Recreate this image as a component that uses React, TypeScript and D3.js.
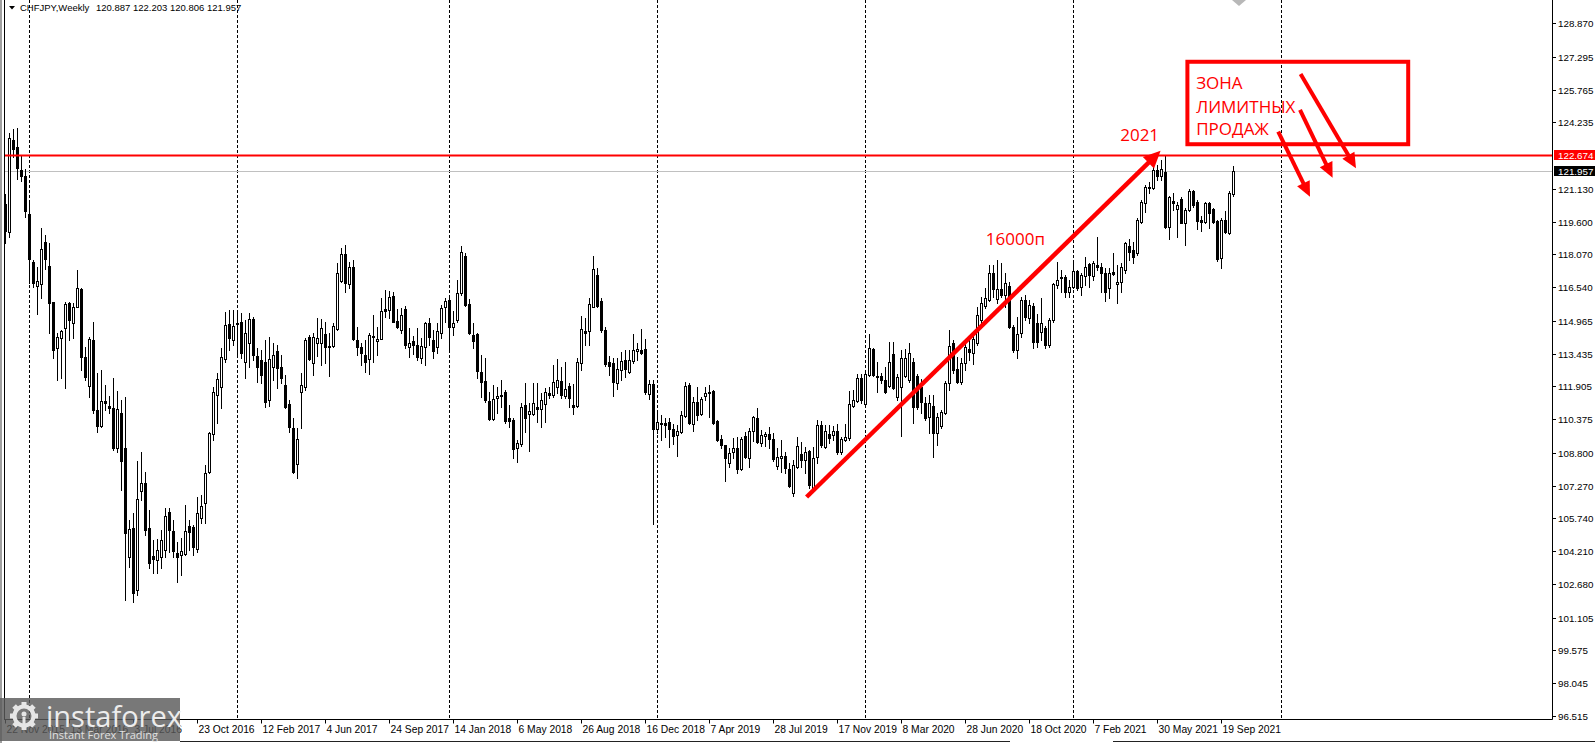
import React from 'react';
import * as d3 from 'd3';

const symbolTitle = 'CHFJPY,Weekly';
const lastOHLC = ['120.887', '122.203', '120.806', '121.957'];

const opens = [
120.42,119.11,123.41,123.08,122.01,121.73,119.95,117.71,116.59,116.69,
118.65,117.53,115.85,113.70,114.16,114.63,115.80,114.86,115.61,116.45,
113.28,111.92,114.07,110.80,110.06,111.22,110.99,110.90,109.03,110.66,
109.03,103.94,105.29,102.40,107.02,107.40,105.29,103.99,103.80,103.94,
104.27,106.04,105.15,104.13,104.03,104.08,105.39,105.34,104.31,105.76,
106.46,107.91,109.68,111.50,111.88,113.18,114.82,114.07,114.86,114.91,
113.04,113.93,115.05,113.32,113.14,113.04,111.27,112.81,113.56,112.81,
111.97,111.08,109.96,108.28,111.64,111.88,114.21,112.99,113.93,113.93,
114.35,113.79,113.79,114.58,116.82,118.09,116.69,117.48,114.07,113.74,
113.37,113.18,114.26,114.03,114.12,115.51,115.47,116.13,114.96,114.54,
115.51,113.74,114.03,113.84,113.23,113.74,114.86,114.07,113.74,114.40,
115.61,115.94,114.68,115.00,116.26,117.99,115.75,114.30,114.35,112.58,
112.16,111.22,110.38,111.36,111.46,111.64,110.43,110.34,109.03,109.21,
111.04,110.62,110.62,110.94,110.85,111.08,111.60,111.50,111.88,112.16,
111.46,111.92,111.04,110.99,112.99,114.49,114.49,115.61,117.11,115.89,
114.54,113.04,112.99,112.06,112.67,113.14,112.58,113.09,113.56,113.60,
113.65,111.55,112.02,109.92,110.20,110.20,110.24,109.92,109.63,109.78,
110.52,111.97,110.15,111.18,110.62,111.46,111.60,111.69,110.29,109.45,
109.17,108.33,108.84,109.03,108.05,109.59,108.56,109.82,110.43,109.26,
109.59,109.68,109.45,108.19,108.56,108.66,108.05,106.93,108.14,108.75,
108.47,108.89,107.16,108.61,110.10,109.07,109.68,109.63,109.82,108.84,
109.40,109.49,110.99,111.22,112.30,111.08,112.44,113.65,112.39,112.39,
112.20,111.92,113.42,111.41,111.88,112.39,112.20,113.04,112.39,111.88,
111.13,110.48,110.99,109.73,110.06,110.66,112.06,113.93,112.72,112.11,
112.99,113.65,113.46,113.93,115.00,115.66,115.94,117.20,115.98,116.45,
116.17,116.59,114.68,113.60,114.40,115.94,115.10,115.66,114.86,114.44,
114.63,113.84,115.00,116.64,117.01,117.01,116.31,116.54,117.29,116.54,
117.06,117.62,117.06,117.57,117.48,117.20,116.50,117.25,116.69,116.78,
117.34,118.46,118.27,118.13,119.58,120.47,121.21,121.17,122.01,121.73,
121.91,119.35,120.56,120.19,120.65,119.53,120.14,121.03,120.51,119.67,
119.58,120.47,120.19,119.63,117.90,119.67,119.06,120.887
];

const highs = [
120.89,123.73,123.92,123.97,122.66,122.05,120.47,117.81,117.48,119.30,
118.97,118.60,115.85,114.40,114.54,115.85,115.85,115.80,117.34,116.50,
113.74,114.21,114.91,112.53,112.67,111.97,111.46,112.30,111.69,111.27,
111.41,105.67,105.99,108.42,108.84,107.91,106.13,104.73,104.78,105.20,
106.23,106.23,105.67,104.64,104.83,106.37,105.67,105.43,106.74,106.83,
108.24,109.78,111.88,112.53,113.70,115.38,115.47,115.47,115.33,115.33,
115.00,115.33,115.14,113.70,113.60,114.07,114.21,113.93,113.84,113.37,
112.44,111.27,110.43,109.96,112.53,114.16,114.31,114.40,115.10,115.05,
114.91,114.40,114.86,117.67,118.37,118.51,117.71,117.81,114.68,113.93,
114.07,114.40,115.24,114.68,116.03,116.40,116.36,116.31,115.51,115.56,
115.66,114.63,114.26,114.63,114.16,114.91,115.10,114.54,114.86,115.70,
116.03,116.03,115.42,116.87,118.46,118.13,115.98,114.86,114.40,113.37,
113.23,111.64,111.97,111.88,112.20,111.74,111.04,110.43,109.40,111.13,
112.06,111.13,112.06,112.06,111.60,111.83,111.88,112.90,113.18,112.81,
113.04,112.06,112.02,113.23,115.19,115.10,116.03,117.99,117.43,116.03,
114.68,113.32,113.23,113.23,113.51,113.60,113.60,114.35,113.93,114.58,
114.12,112.20,112.20,110.71,110.57,110.43,110.43,110.15,110.10,110.76,
112.11,112.06,111.41,111.88,111.41,111.88,111.97,111.74,110.34,109.63,
109.17,109.03,109.49,109.54,109.54,109.78,109.96,110.52,110.90,109.87,
109.78,110.01,109.73,109.03,109.40,108.84,108.33,108.47,109.54,109.31,
109.07,108.94,109.07,110.34,110.29,110.10,110.10,110.06,110.15,109.54,
110.15,111.69,111.74,112.48,112.48,112.53,114.35,113.70,113.04,112.53,
112.81,113.98,113.98,112.48,113.60,113.65,113.93,113.23,112.48,112.25,
111.41,111.50,111.50,110.66,110.80,112.16,114.54,114.07,113.28,113.23,
114.12,114.07,114.30,115.61,116.08,116.50,117.57,117.57,117.81,117.67,
117.20,116.78,114.77,115.14,116.08,116.17,115.94,115.80,115.28,116.03,
114.72,115.10,116.73,117.71,117.34,117.11,116.87,117.67,117.34,117.20,
117.95,117.67,117.76,118.88,117.67,117.43,117.43,118.13,117.57,117.67,
118.65,118.79,118.65,119.76,120.61,121.31,121.45,122.47,122.24,122.47,
122.674,120.79,120.93,120.51,120.75,120.23,121.12,121.07,120.61,119.86,
120.51,120.51,120.23,119.67,119.76,120.09,121.03,122.203
];

const lows = [
118.60,118.88,122.61,121.59,121.49,119.81,116.73,116.54,115.28,116.03,
117.39,114.40,113.23,112.20,112.30,111.83,114.07,114.16,115.61,112.67,
112.20,111.41,110.66,109.78,110.01,110.80,110.66,108.94,108.84,107.07,
101.93,103.47,101.84,102.17,106.60,104.97,103.43,103.19,103.19,103.43,
103.94,104.17,103.94,102.77,103.10,104.03,104.27,104.03,104.17,105.53,
105.53,107.86,109.40,110.20,110.90,113.04,113.60,113.84,113.37,113.23,
112.30,112.81,113.14,112.11,112.06,110.94,110.99,112.20,111.83,112.06,
110.90,109.78,107.86,107.63,109.96,111.74,113.14,112.44,113.30,112.90,
112.99,112.39,113.74,114.54,116.78,116.31,116.50,114.07,113.37,112.90,
112.58,112.48,113.04,113.37,114.12,115.14,115.10,114.91,114.63,114.40,
113.70,113.28,113.42,113.14,112.99,112.90,113.84,113.23,113.46,114.16,
114.91,113.60,114.30,114.91,116.17,115.66,114.35,113.70,112.30,111.41,
111.18,110.34,110.34,110.66,110.94,110.20,110.01,108.56,108.38,109.12,
109.78,108.89,110.57,110.24,110.01,110.24,111.36,111.41,111.60,111.36,
111.36,110.94,110.62,110.94,112.67,113.84,113.84,115.61,115.61,114.44,
112.86,112.44,111.46,111.78,112.20,112.34,112.53,112.99,113.14,113.42,
111.55,111.32,105.48,109.73,109.40,109.54,109.07,109.21,108.66,109.73,
110.48,110.15,109.82,110.34,110.57,111.27,110.48,110.15,109.35,109.03,
107.49,108.14,108.56,107.86,108.00,108.56,108.14,109.35,109.26,109.12,
109.12,109.03,108.42,108.05,107.91,107.86,107.21,106.79,108.09,108.14,
107.86,107.16,107.07,108.33,109.07,109.03,109.26,109.40,108.75,108.75,
109.35,109.40,110.94,111.18,111.13,111.04,112.39,112.39,111.64,112.06,
111.60,111.88,111.78,111.27,109.59,112.34,112.11,110.20,110.85,110.66,
110.34,109.73,108.61,109.17,109.96,110.62,111.74,112.53,112.06,112.02,
112.67,113.14,112.95,113.84,114.77,115.56,115.89,116.08,115.80,116.08,
115.61,114.63,113.51,113.23,114.21,115.00,114.86,113.70,113.74,114.07,
113.70,113.74,114.91,116.50,116.31,116.08,116.08,116.50,116.40,116.17,
116.64,116.54,116.87,117.34,116.31,115.89,116.03,117.11,115.80,116.31,
117.20,117.81,117.67,118.04,119.53,120.05,120.93,121.12,121.54,121.54,
119.30,118.79,120.14,118.88,119.53,118.51,120.09,120.28,119.25,119.16,
119.53,119.30,119.53,117.76,117.43,119.06,119.02,120.806
];

const closes = [
119.16,123.50,122.99,122.10,121.73,120.09,117.85,116.73,116.82,118.32,
117.85,115.80,113.60,114.21,114.49,115.75,115.00,115.61,116.50,113.28,
112.34,114.12,110.80,110.06,111.22,111.13,110.90,109.03,110.85,108.42,
105.06,105.25,102.26,106.65,107.40,105.20,103.66,103.85,104.27,104.73,
105.86,105.20,104.22,103.94,104.22,105.15,105.11,104.41,105.99,106.32,
107.86,109.73,111.64,112.25,113.28,114.77,114.16,114.72,114.82,113.46,
114.40,115.05,113.37,112.81,112.44,111.18,113.18,113.37,112.76,112.30,
110.94,110.01,107.91,109.45,111.97,114.07,113.18,114.21,114.16,114.63,
113.74,113.74,114.72,117.20,118.09,116.73,117.48,114.12,113.74,113.46,
113.04,114.30,114.21,114.12,115.42,115.42,116.08,114.91,114.68,115.24,
113.84,113.93,113.84,113.28,113.79,114.86,114.21,113.56,114.49,115.56,
115.89,114.68,114.86,116.26,118.18,115.70,114.40,114.03,112.62,112.11,
111.27,110.38,111.32,111.46,111.50,110.29,110.29,108.98,109.26,110.94,
110.43,110.76,111.13,110.85,111.27,111.64,111.50,112.11,112.20,111.50,
111.78,111.36,110.94,113.04,114.58,114.40,115.75,117.39,115.66,114.54,
112.95,112.86,112.11,112.72,113.09,112.72,113.14,113.60,113.65,113.46,
111.64,112.02,109.92,110.24,110.15,110.10,109.92,109.59,109.82,110.57,
111.92,110.20,111.18,110.57,111.32,111.60,111.64,110.20,109.40,109.17,
108.56,108.80,109.03,108.05,109.45,108.61,109.82,110.48,109.31,109.63,
109.68,109.45,108.52,108.61,108.66,108.09,107.26,108.24,109.12,108.47,
108.84,107.30,108.56,110.10,109.17,109.82,109.49,109.82,108.84,109.45,
109.54,111.08,111.27,112.30,111.27,112.48,113.70,112.44,112.34,112.20,
111.64,113.04,111.83,112.34,113.23,113.23,113.46,110.94,110.94,111.18,
110.43,111.13,109.73,110.48,110.71,112.06,113.79,112.67,112.11,112.99,
113.74,113.51,114.12,115.24,115.80,116.03,117.20,116.45,116.45,116.17,
116.73,114.68,113.60,114.35,115.94,115.14,115.70,113.98,113.98,114.86,
113.84,115.00,116.69,116.87,116.96,116.31,116.54,117.29,116.50,117.11,
117.48,117.11,117.67,117.48,117.20,116.31,117.20,117.15,116.78,117.48,
118.60,118.18,117.95,119.67,120.51,121.21,121.17,122.01,121.73,122.05,
119.35,120.75,120.47,120.37,119.53,120.14,121.03,120.37,119.63,119.58,
120.47,120.00,119.58,117.85,119.67,119.11,120.93,121.957
];

const priceTicks = [128.870, 127.295, 125.765, 124.235, 121.130, 119.600, 118.070, 116.540, 114.965, 113.435,
  111.905, 110.375, 108.800, 107.270, 105.740, 104.210, 102.680, 101.105, 99.575, 98.045, 96.515];

const dateLabels = ['22 Nov 2015', '13 Mar 2016', '3 Jul 2016', '23 Oct 2016', '12 Feb 2017', '4 Jun 2017',
  '24 Sep 2017', '14 Jan 2018', '6 May 2018', '26 Aug 2018', '16 Dec 2018', '7 Apr 2019', '28 Jul 2019',
  '17 Nov 2019', '8 Mar 2020', '28 Jun 2020', '18 Oct 2020', '7 Feb 2021', '30 May 2021', '19 Sep 2021'];
const dateLabelStep = 16;
const yearSeparatorBars = [6, 58, 111, 163, 215, 267, 319];

const resistanceLevel = 122.674;
const bidLevel = 121.957;

// annotations, in (bar index, price)
const trendFrom = [200.4, 106.74];
const trendTo = [288.9, 122.9];
const pipsLabel = { text: '16000п', at: [245.2, 118.5] };
const yearLabel = { text: '2021', at: [278.8, 123.36] };
const zoneBox = { from: [295.6, 127.06], to: [350.8, 123.21] };
const zoneLines = ['ЗОНА', 'ЛИМИТНЫХ', 'ПРОДАЖ'];
const zoneLineAt = [[297.8, 125.77], [297.8, 124.67], [297.8, 123.62]];
const sellArrows = [
  [[323.9, 126.49], [337.75, 122.09]],
  [[323.75, 124.81], [331.9, 121.65]],
  [[318.3, 123.8], [326.25, 120.76]],
];

const W = 1595;
const H = 743;
const AXIS_X = 1552.5;
const AXIS_Y = 719.5;
const RED = '#ff0000';
const FONT = "'Liberation Sans', Arial, sans-serif";
const NOTE_FONT = "'Open Sans', 'Noto Sans', sans-serif";

const x = d3.scaleLinear().domain([0, 1]).range([5, 9]);
const y = d3.scaleLinear().domain([96.515, 128.87]).range([716, 23]);
const fmt = d3.format('.3f');

function Arrow({ x1, y1, x2, y2, w, head, half }: any) {
  const dx = x2 - x1, dy = y2 - y1;
  const len = Math.hypot(dx, dy);
  const ux = dx / len, uy = dy / len;
  const bx = x2 - ux * head, by = y2 - uy * head;
  const px = -uy, py = ux;
  const pts = [[x2, y2], [bx + px * half, by + py * half], [bx - px * half, by - py * half]];
  return (
    <g>
      <line x1={x1} y1={y1} x2={bx + ux * 2} y2={by + uy * 2} stroke={RED} strokeWidth={w} />
      <polygon points={pts.map(p => p.join(',')).join(' ')} fill={RED} />
    </g>
  );
}

export default function App() {
  const n = closes.length;
  const candles = d3.range(n).map(i => {
    const o = opens[i], c = closes[i], h = highs[i], l = lows[i];
    const cx = Math.round(x(i));
    const yh = Math.round(y(h)), yl = Math.round(y(l));
    const yt = Math.round(y(Math.max(o, c))), yb = Math.round(y(Math.min(o, c)));
    const bull = c > o;
    const bh = Math.max(1, yb - yt + 1);
    return (
      <g key={i}>
        <rect x={cx} y={yh} width={1} height={Math.max(1, yl - yh + 1)} fill="#000" />
        <rect x={cx - 1} y={yt} width={3} height={bh} fill="#000" />
        {bull && bh > 2 ? <rect x={cx} y={yt + 1} width={1} height={bh - 2} fill="#fff" /> : null}
      </g>
    );
  });

  const gear = d3.range(8).map(k => {
    const a = (k * 45);
    return <rect key={k} x={-2.5} y={-14} width={5} height={6} fill="#e6e6e6" transform={`rotate(${a})`} />;
  });

  return (
    <svg width={W} height={H} viewBox={`0 0 ${W} ${H}`} style={{ position: 'absolute', left: 0, top: 0, display: 'block', background: '#fff' }}>
      <rect x={0} y={0} width={W} height={H} fill="#fff" />
      <defs>
        <clipPath id="plot"><rect x={4} y={0} width={AXIS_X - 4} height={AXIS_Y} /></clipPath>
      </defs>

      {/* frame */}
      <line x1={1} y1={0} x2={1} y2={H} stroke="#a0a0a0" strokeWidth={2} />
      <line x1={4.5} y1={0} x2={4.5} y2={AXIS_Y} stroke="#000" strokeWidth={1} />

      {/* year separators */}
      {yearSeparatorBars.map(b => (
        <line key={b} x1={Math.round(x(b)) + 0.5} y1={0} x2={Math.round(x(b)) + 0.5} y2={AXIS_Y}
          stroke="#000" strokeWidth={1} strokeDasharray="3,2" />
      ))}

      {/* bid line */}
      <line x1={5} x2={AXIS_X} y1={Math.round(y(bidLevel)) + 0.5} y2={Math.round(y(bidLevel)) + 0.5} stroke="#c0c0c0" strokeWidth={1} />

      <g clipPath="url(#plot)">{candles}</g>

      {/* resistance line */}
      <line x1={5} x2={AXIS_X} y1={Math.round(y(resistanceLevel)) - 0.5} y2={Math.round(y(resistanceLevel)) - 0.5} stroke={RED} strokeWidth={2} />

      {/* axes */}
      <line x1={AXIS_X} y1={0} x2={AXIS_X} y2={AXIS_Y} stroke="#000" strokeWidth={1} />
      <line x1={4} y1={AXIS_Y} x2={AXIS_X} y2={AXIS_Y} stroke="#000" strokeWidth={1} />

      {priceTicks.map(v => {
        const yy = Math.round(y(v)) + 0.5;
        return (
          <g key={v}>
            <line x1={AXIS_X} x2={AXIS_X + 3.5} y1={yy} y2={yy} stroke="#000" />
            <text x={1558} y={yy + 3.5} fontFamily={FONT} fontSize={9.8} fill="#000">{fmt(v)}</text>
          </g>
        );
      })}

      {/* price labels */}
      {[[resistanceLevel, RED], [bidLevel, '#000']].map(([v, col]: any) => {
        const yy = Math.round(y(v)) - (v === resistanceLevel ? 1 : 0);
        return (
          <g key={v}>
            <rect x={1554} y={yy - 5} width={41} height={10} fill={col} />
            <text x={1558} y={yy + 3.5} fontFamily={FONT} fontSize={9.8} fill="#fff">{fmt(v)}</text>
          </g>
        );
      })}

      {/* date labels */}
      {dateLabels.map((d, k) => {
        const bx = Math.round(x(k * dateLabelStep)) + 0.5;
        return (
          <g key={d}>
            <line x1={bx} x2={bx} y1={AXIS_Y} y2={AXIS_Y + 4} stroke="#000" />
            <text x={bx + 1} y={732.5} fontFamily={FONT} fontSize={10.3} fill="#000">{d}</text>
          </g>
        );
      })}

      {/* header */}
      <polygon points="9,6 15,6 12,9.5" fill="#000" />
      <text x={20} y={11} fontFamily={FONT} fontSize={9.5} fill="#000">{symbolTitle}</text>
      <text x={96} y={11} fontFamily={FONT} fontSize={9.5} fill="#000">{lastOHLC.join(' ')}</text>
      <polygon points="1232,0 1246,0 1239,6" fill="#b8b8b8" />

      {/* annotations */}
      <Arrow x1={x(trendFrom[0])} y1={y(trendFrom[1])} x2={x(trendTo[0])} y2={y(trendTo[1])} w={4.5} head={17} half={8} />
      <text x={x(pipsLabel.at[0])} y={y(pipsLabel.at[1])} fontFamily={NOTE_FONT} fontSize={17} fill={RED}>{pipsLabel.text}</text>
      <text x={x(yearLabel.at[0])} y={y(yearLabel.at[1])} fontFamily={NOTE_FONT} fontSize={17} fill={RED}>{yearLabel.text}</text>
      <rect x={x(zoneBox.from[0])} y={y(zoneBox.from[1])} width={x(zoneBox.to[0]) - x(zoneBox.from[0])}
        height={y(zoneBox.to[1]) - y(zoneBox.from[1])} fill="none" stroke={RED} strokeWidth={4} />
      {zoneLines.map((t, k) => (
        <text key={t} x={x(zoneLineAt[k][0])} y={y(zoneLineAt[k][1])} fontFamily={NOTE_FONT} fontSize={17} fill={RED}>{t}</text>
      ))}
      {sellArrows.map((a, k) => (
        <Arrow key={k} x1={x(a[0][0])} y1={y(a[0][1])} x2={x(a[1][0])} y2={y(a[1][1])} w={4} head={15} half={7} />
      ))}

      {/* watermark */}
      <g>
        <rect x={0} y={698} width={180} height={43} fill="#5a5a5a" opacity={0.82} />
        <g transform="translate(24,716)">
          {gear}
          <circle r={9.5} fill="none" stroke="#e6e6e6" strokeWidth={4} />
          <circle cx={0} cy={-2} r={2.5} fill="#e6e6e6" />
          <rect x={-1.5} y={1} width={3} height={8} fill="#e6e6e6" />
        </g>
        <text x={46} y={727} fontFamily={NOTE_FONT} fontSize={29} fill="#ececec">instaforex</text>
        <text x={49} y={739} fontFamily={NOTE_FONT} fontSize={11} fill="#e0e0e0">Instant Forex Trading</text>
      </g>
      <line x1={180} x2={1010} y1={741.5} y2={741.5} stroke="#222" />
      <line x1={1113} x2={W} y1={741.5} y2={741.5} stroke="#222" />
    </svg>
  );
}
